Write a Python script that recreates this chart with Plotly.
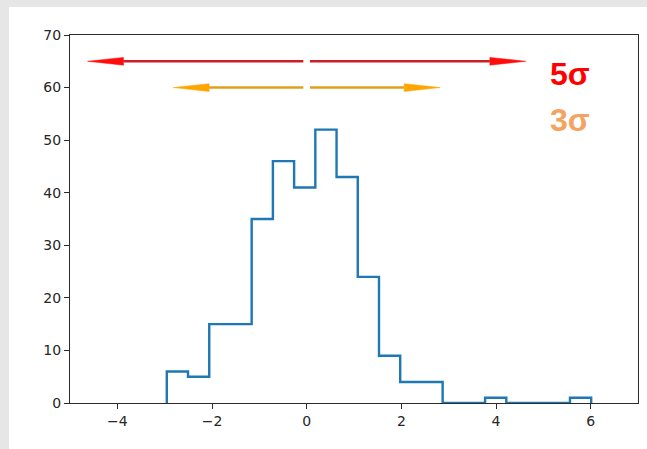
import numpy as np
import plotly.graph_objects as go

# ---- data ----
bin_start = -2.955
bin_width = 0.4483
counts = [6, 5, 15, 15, 35, 46, 41, 52, 43, 24, 9, 4, 4, 0, 0, 1, 0, 0, 0, 1]

arrow_levels = [65, 60]            # y of the 5σ and 3σ arrows
arrow_reach = [4.63, 2.82]         # distance of arrow tips from the mean
arrow_gap = 0.07                   # arrows start this far from the mean
mean_value = 0.0
sigma_labels = ["5σ", "3σ"]
label_y = [62.6, 53.8]
label_x = 5.1

x_ticks = [-4, -2, 0, 2, 4, 6]
y_ticks = [0, 10, 20, 30, 40, 50, 60, 70]

# ---- styles ----
shaft_colors = ["#cc1f27", "#e0a01c"]
head_colors = ["#ff0d0d", "#ffa500"]
label_colors = ["#ff0000", "#f4a460"]
head_len = 0.76
head_half = 0.74

W, H = 647, 449
ml, mr, mt, mb = 70, 9, 35, 46

fig = go.Figure()

edges = bin_start + bin_width * np.arange(len(counts) + 1)
hx = np.repeat(edges, 2)
hy = np.concatenate([[0], np.repeat(counts, 2), [0]])
fig.add_trace(go.Scatter(x=hx, y=hy, mode="lines",
                         line=dict(color="#1f77b4", width=2.4),
                         hoverinfo="skip", showlegend=False))

for lvl, reach, sc, hc in zip(arrow_levels, arrow_reach, shaft_colors, head_colors):
    for d in (-1, 1):
        start = mean_value + d * arrow_gap
        tip = mean_value + d * reach
        back = tip - d * head_len
        fig.add_trace(go.Scatter(x=[start, back], y=[lvl, lvl], mode="lines",
                                 line=dict(color=sc, width=2.4),
                                 hoverinfo="skip", showlegend=False))
        fig.add_trace(go.Scatter(x=[tip, back, back, tip],
                                 y=[lvl, lvl + head_half, lvl - head_half, lvl],
                                 mode="lines", fill="toself", fillcolor=hc,
                                 line=dict(color=hc, width=0.5),
                                 hoverinfo="skip", showlegend=False))

for txt, ly, col in zip(sigma_labels, label_y, label_colors):
    fig.add_annotation(x=label_x, y=ly, text="<b>%s</b>" % txt, showarrow=False,
                       xanchor="left", yanchor="middle",
                       font=dict(family="Liberation Sans, Arial", size=32, color=col))

pw = W - ml - mr
ph = H - mt - mb
grey = "#e6e6e6"
# grey frame strips (top and left) of the surrounding slide
fig.add_shape(type="rect", xref="paper", yref="paper", layer="below",
              x0=-ml / pw - 0.01, x1=(W - ml) / pw + 0.01,
              y0=(H - mb - 7) / ph, y1=(H - mb) / ph + 0.01,
              fillcolor=grey, line=dict(width=0))
fig.add_shape(type="rect", xref="paper", yref="paper", layer="below",
              x0=-ml / pw - 0.01, x1=(9 - ml) / pw,
              y0=-mb / ph - 0.01, y1=(H - mb) / ph + 0.01,
              fillcolor=grey, line=dict(width=0))

axis_common = dict(showgrid=False, zeroline=False, showline=True, mirror=True,
                   linecolor="#2b2b2b", linewidth=1.3, ticks="outside",
                   ticklen=5, tickwidth=1.2, tickcolor="#2b2b2b",
                   tickfont=dict(family="DejaVu Sans", size=14, color="#262626"))

fig.update_xaxes(range=[-5, 7], tickvals=x_ticks, **axis_common)
fig.update_yaxes(range=[0, 70], tickvals=y_ticks, **axis_common)

fig.update_layout(width=W, height=H, margin=dict(l=ml, r=mr, t=mt, b=mb),
                  paper_bgcolor="white", plot_bgcolor="white")

fig.write_html("out.html")
